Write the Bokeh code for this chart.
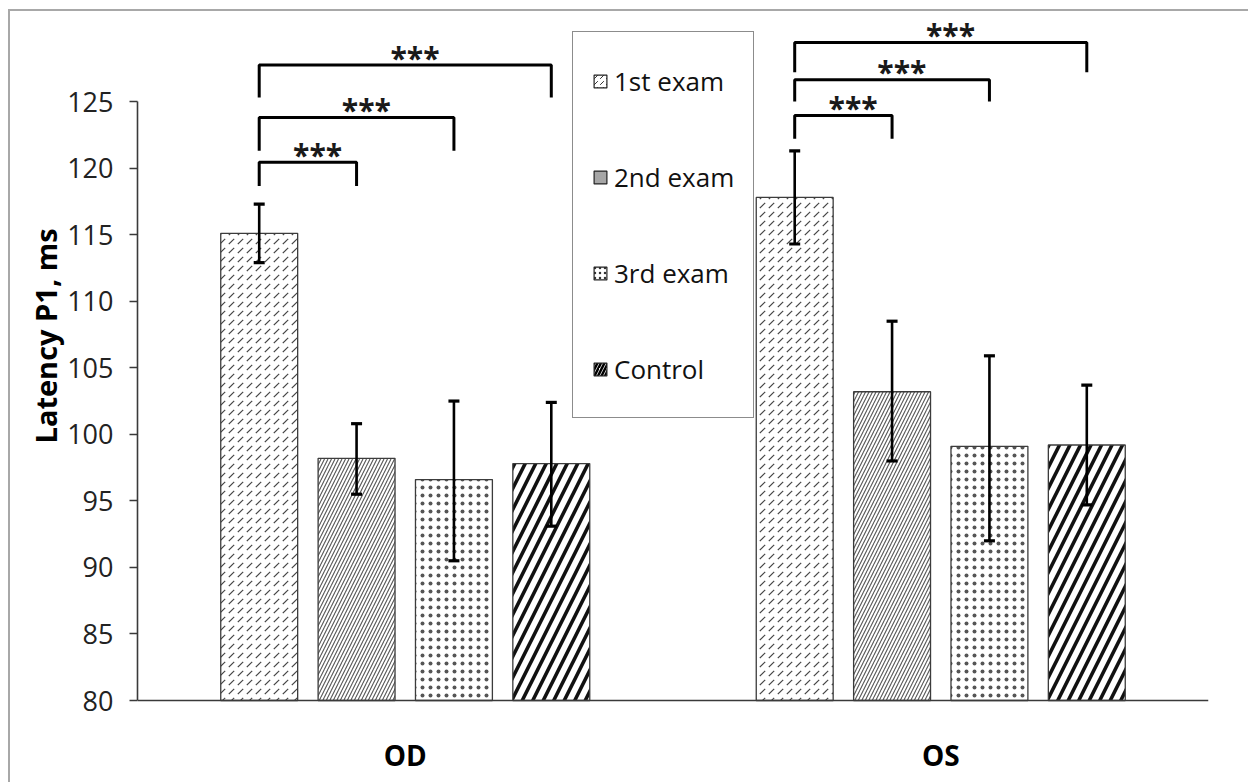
from bokeh.plotting import figure
from bokeh.models import (FactorRange, Range1d, ColumnDataSource, Whisker, TeeHead,
                          Legend, LegendItem, Title, SingleIntervalTicker)
from bokeh.core.properties import value
from bokeh.embed import file_html
from bokeh.resources import INLINE

# ---------------- data ----------------
groups = ["OD", "OS"]
series = ["1st exam", "2nd exam", "3rd exam", "Control"]

od_mean = [115.1, 98.2, 96.6, 97.8]
os_mean = [117.8, 103.2, 99.1, 99.2]
od_lower = [112.9, 95.5, 90.5, 93.1]
od_upper = [117.3, 100.8, 102.5, 102.4]
os_lower = [114.3, 98.0, 92.0, 94.7]
os_upper = [121.3, 108.5, 105.9, 103.7]

# significance brackets (from 1st exam to ...)
br_group = ["OD", "OD", "OD", "OS", "OS", "OS"]
br_to = ["2nd exam", "3rd exam", "Control", "2nd exam", "3rd exam", "Control"]
br_top = [120.45, 123.8, 127.75, 123.95, 126.65, 129.45]
br_leg = [118.65, 121.3, 125.3, 122.2, 125.0, 127.2]
br_text = ["***"] * 6

y_ticks_interval = 5
y_axis_min, y_axis_max = 80, 125
y_title = "Latency P1, ms"

# ---------------- figure ----------------
factors = [(g, s) for g in groups for s in series]
x_range = FactorRange(*factors, factor_padding=0.0, group_padding=1.5,
                      range_padding=1.5 / 9.5, range_padding_units="percent")

p = figure(width=1240, height=773, x_range=x_range, y_range=Range1d(73.69, 131.77),
           x_axis_location=None, output_backend="svg", toolbar_location=None,
           min_border_left=127, min_border_right=42, min_border_top=0, min_border_bottom=0,
           styles={"margin-left": "8px", "margin-top": "9px",
                   "border-left": "2px solid #a8a8a8", "border-top": "2px solid #a8a8a8"})
p.outline_line_color = None
p.grid.visible = False
p.background_fill_color = "white"
p.border_fill_color = "white"

FONT = "Open Sans"

# bars
styles = {
    "1st exam": dict(hatch_pattern=",", hatch_scale=9, hatch_weight=1.2, hatch_color="#444444"),
    "2nd exam": dict(hatch_pattern="/", hatch_scale=7, hatch_weight=1.1, hatch_color="#555555"),
    "3rd exam": dict(hatch_pattern=".", hatch_scale=8, hatch_weight=0.7, hatch_color="#555555"),
    "Control": dict(hatch_pattern="/", hatch_scale=21, hatch_weight=3.6, hatch_color="#111111"),
}
for i, s in enumerate(series):
    src = ColumnDataSource(dict(x=[(g, s) for g in groups],
                                top=[od_mean[i], os_mean[i]]))
    p.vbar(x="x", top="top", bottom=y_axis_min, width=0.79, source=src,
           fill_color="white", line_color="#3c3c3c", line_width=1.3, **styles[s])

# error bars
err_src = ColumnDataSource(dict(
    x=[(g, s) for g in groups for s in series],
    lower=od_lower + os_lower,
    upper=od_upper + os_upper))
wh = Whisker(base="x", lower="lower", upper="upper", source=err_src,
             line_color="black", line_width=2.6,
             upper_head=TeeHead(size=11, line_width=3.2, line_color="black"),
             lower_head=TeeHead(size=11, line_width=3.2, line_color="black"))
wh.level = "overlay"
p.add_layout(wh)

# baseline (x axis line)
p.segment(x0=[(groups[0], series[0], -1.25)], x1=[(groups[-1], series[-1], 1.25)],
          y0=[y_axis_min], y1=[y_axis_min], line_color="#3a3a3a", line_width=1.6)

# brackets
xs, ys = [], []
for g, t, top, leg in zip(br_group, br_to, br_top, br_leg):
    a = (g, series[0])
    b = (g, t)
    xs.append([a, a, b, b])
    ys.append([leg, top, top, leg])
p.multi_line(xs=xs, ys=ys, line_color="black", line_width=3)

mid_x = []
for g, t in zip(br_group, br_to):
    k = series.index(t)
    mid_x.append((g, series[0], k / 2.0 + 0.1))
p.text(x=mid_x, y=br_top, text=br_text, text_font=value(FONT), text_font_style="bold",
       text_font_size="30px", text_align="center", text_baseline="middle",
       y_offset=-8, text_color="#1a1a1a")

# group labels
p.text(x=groups, y=[75.87, 75.87], text=groups, text_font=value(FONT), text_font_style="bold",
       text_font_size="28px", text_align="center", text_baseline="middle", text_color="black")

# y axis
ax = p.yaxis[0]
ax.bounds = (y_axis_min, y_axis_max)
ax.ticker = SingleIntervalTicker(interval=y_ticks_interval)
ax.minor_tick_line_color = None
ax.major_tick_out = 8
ax.major_tick_in = 0
ax.major_tick_line_color = "#3a3a3a"
ax.major_tick_line_width = 1.5
ax.axis_line_color = "#3a3a3a"
ax.axis_line_width = 1.6
ax.major_label_text_font = FONT
ax.major_label_text_font_size = "27px"
ax.major_label_text_color = "#222222"
ax.major_label_standoff = 16

ytitle = Title(text=y_title, align="left", offset=341, standoff=0,
               text_font=FONT, text_font_style="bold", text_font_size="29px",
               text_color="black")
p.add_layout(ytitle, "left")

# legend (icon proxies, drawn below the visible y range)
icon_styles = [
    dict(fill_color="white", hatch_pattern=",", hatch_scale=6, hatch_weight=1, hatch_color="#333333"),
    dict(fill_color="#a6a6a6"),
    dict(fill_color="white", hatch_pattern=".", hatch_scale=5, hatch_weight=1.2, hatch_color="#333333"),
    dict(fill_color="white", hatch_pattern="/", hatch_scale=7, hatch_weight=2.5, hatch_color="black"),
]
hidden_y = p.y_range.start - 5
items = []
for s, st in zip(series, icon_styles):
    r = p.vbar(x=[(groups[0], s)], top=[hidden_y], bottom=hidden_y - 1, width=0.5,
               line_color="#222222", line_width=1.2, **st)
    items.append(LegendItem(label=s, renderers=[r]))
legend = Legend(items=items, location=(435, 366), padding=19, spacing=37, label_height=59,
                glyph_height=16, glyph_width=16, label_standoff=6, margin=0,
                border_line_color="#1a1a1a", border_line_width=1.3,
                label_text_font=FONT, label_text_font_size="26px", label_text_color="#111111",
                background_fill_color="white", background_fill_alpha=1.0)
p.add_layout(legend)

open("out.html", "w").write(file_html(p, INLINE))
